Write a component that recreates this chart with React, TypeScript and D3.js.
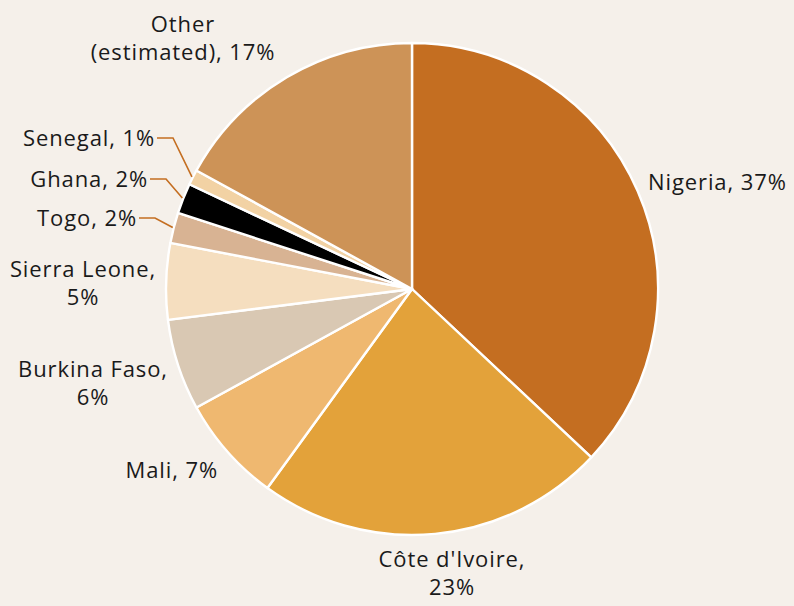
import React from "react";
import * as d3 from "d3";

const categories = ["Nigeria", "Côte d'Ivoire", "Mali", "Burkina Faso", "Sierra Leone", "Togo", "Ghana", "Senegal", "Other (estimated)"];
const shares = [37, 23, 7, 6, 5, 2, 2, 1, 17];
const colors = ["#C46E21", "#E3A23A", "#EFB870", "#D9C8B3", "#F5DEBF", "#D8B393", "#000000", "#F2D2A4", "#CD9357"];
const labelLines: string[][] = [
  ["Nigeria, 37%"],
  ["Côte d'Ivoire,", "23%"],
  ["Mali, 7%"],
  ["Burkina Faso,", "6%"],
  ["Sierra Leone,", "5%"],
  ["Togo, 2%"],
  ["Ghana, 2%"],
  ["Senegal, 1%"],
  ["Other", "(estimated), 17%"],
];

// layout (positions of labels), separate from data
const labelLayout = [
  { x: 648, y: 190, anchor: "start", leader: false },
  { x: 452, y: 567, anchor: "middle", leader: false },
  { x: 218, y: 478, anchor: "end", leader: false },
  { x: 93, y: 377, anchor: "middle", leader: false },
  { x: 83, y: 277, anchor: "middle", leader: false },
  { x: 137, y: 226, anchor: "end", leader: true },
  { x: 148, y: 187, anchor: "end", leader: true },
  { x: 155, y: 146, anchor: "end", leader: true },
  { x: 183, y: 32, anchor: "middle", leader: false },
];

const W = 794;
const H = 606;
const cx = 412;
const cy = 289;
const R = 246;

export default function App() {
  const pie = d3.pie<number>().sort(null).value((d) => d)(shares);
  const arc = d3.arc<d3.PieArcDatum<number>>().innerRadius(0).outerRadius(R);
  return (
    <svg width={W} height={H} style={{ position: "absolute", left: 0, top: 0, background: "#F5F0EA" }}>
      <rect x={0} y={0} width={W} height={H} fill="#F5F0EA" />
      <g transform={`translate(${cx},${cy})`}>
        {pie.map((p, i) => (
          <path key={i} d={arc(p) || ""} fill={colors[i]} stroke="#FFFFFF" strokeWidth={2.4} strokeLinejoin="round" />
        ))}
      </g>
      {pie.map((p, i) => {
        const L = labelLayout[i];
        if (!L.leader) return null;
        const mid = (p.startAngle + p.endAngle) / 2;
        const ex = cx + Math.sin(mid) * (R + 1);
        const ey = cy - Math.cos(mid) * (R + 1);
        const sx = L.x + 2;
        const sy = L.y - 8;
        const kx = sx + 16;
        return (
          <polyline key={"l" + i} points={`${sx},${sy} ${kx},${sy} ${ex},${ey}`} fill="none" stroke="#C46E21" strokeWidth={1.6} />
        );
      })}
      {labelLines.map((lines, i) => {
        const L = labelLayout[i];
        return (
          <text key={"t" + i} x={L.x} y={L.y} textAnchor={L.anchor as any} fontFamily="'Open Sans', 'Noto Sans', sans-serif" fontSize={22} letterSpacing={0.9} fill="#1A1A1A">
            {lines.map((ln, j) => (
              <tspan key={j} x={L.x} dy={j === 0 ? 0 : 28}>{ln}</tspan>
            ))}
          </text>
        );
      })}
    </svg>
  );
}
